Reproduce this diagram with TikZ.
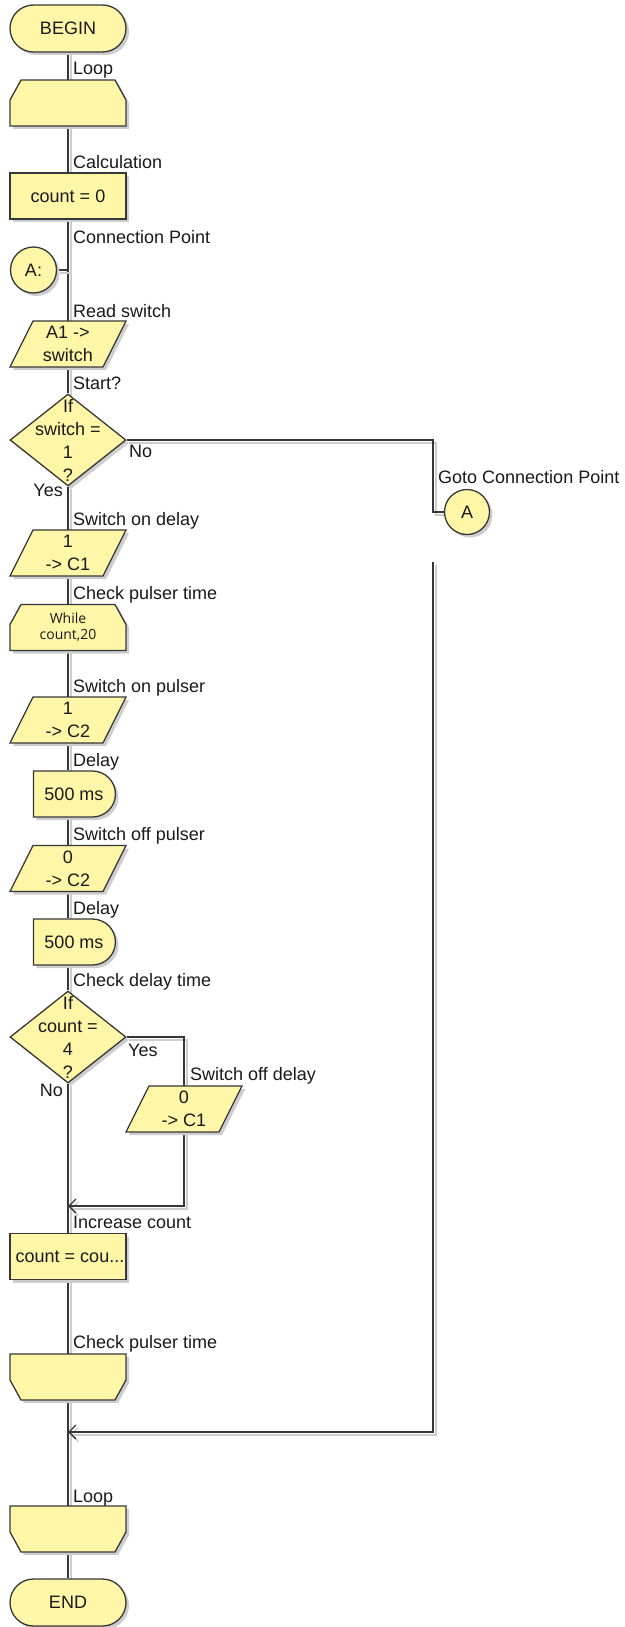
\documentclass[tikz,border=0pt]{standalone}
\usepackage{fontspec}
\setmainfont{Liberation Sans}
\newfontfamily\whilefont{Open Sans}
\usetikzlibrary{shapes.geometric,shapes.misc,shadows,calc,arrows.meta}
\pgfdeclarelayer{bg}
\pgfsetlayers{bg,main}
\definecolor{fillc}{RGB}{255,246,168}
\definecolor{linec}{RGB}{55,55,55}
\definecolor{shadc}{RGB}{205,205,205}
\definecolor{textc}{RGB}{25,25,25}

\newcommand\paranode[4]{%
  \path[shp] (#2-58,#3+23) -- (#2-35,#3-23) -- (#2+58,#3-23) -- (#2+35,#3+23) -- cycle;
  \node[holder] (#1) at (#2,#3) {#4};}
\newcommand\loopstartnode[5][]{%
  \path[shp] (#3-58,#4+23) -- (#3-58,#4-3) -- (#3-47,#4-23) -- (#3+47,#4-23) -- (#3+58,#4-3) -- (#3+58,#4+23) -- cycle;
  \node[holder,#1] (#2) at (#3,#4) {#5};}
\newcommand\loopendnode[4]{%
  \path[shp] (#2-58,#3-23) -- (#2-58,#3+3) -- (#2-47,#3+23) -- (#2+47,#3+23) -- (#2+58,#3+3) -- (#2+58,#3-23) -- cycle;
  \node[holder] (#1) at (#2,#3) {#4};}

\begin{document}
\begin{tikzpicture}[x=1pt,y=-1pt,
  font=\fontsize{18}{23}\selectfont, text=textc,
  shp/.style={draw=linec, fill=fillc, line width=1.3pt, drop shadow={shadow xshift=3pt,shadow yshift=-3pt,fill=shadc,opacity=1}},
  term/.style={shp, rounded rectangle, minimum width=116pt, minimum height=47pt, inner sep=0pt},
  procbox/.style={shp, rectangle, minimum width=116pt, minimum height=46pt, inner sep=0pt},
  holder/.style={rectangle, minimum width=116pt, minimum height=46pt, inner sep=0pt, align=center},
  delaybox/.style={shp, rounded rectangle, rounded rectangle left arc=none, minimum width=82pt, minimum height=46pt, inner sep=0pt},
  conpt/.style={shp, circle, minimum size=46pt, inner sep=0pt},
  decision/.style={shp, diamond, minimum width=116pt, minimum height=92pt, inner sep=0pt},
  dtext/.style={align=center, inner sep=0pt},
  lbl/.style={anchor=base west, inner sep=0pt},
  lble/.style={anchor=base east, inner sep=0pt},
  whiletext/.style={font=\whilefont\fontsize{14}{16}\selectfont},
  conn/.style={draw=linec, line width=1.3pt, preaction={draw=shadc, line width=2pt, transform canvas={xshift=2.5pt,yshift=-2.5pt}}},
  joinarrow/.style={conn, -{Straight Barb[length=7pt,width=14pt,line width=1.3pt]}},
]
\useasboundingbox (0,0) rectangle (624,1627);

% nodes
\node[term] (begin) at (68,28.5) {BEGIN};
\loopstartnode{loop1}{68}{103}{}
\node[procbox] (calc) at (68,196) {count = 0};
\node[conpt] (circA) at (33.5,270) {A:};
\paranode{read}{68}{344}{A1 ->\\switch}
\node[decision] (dia1) at (68,440) {};
\node[dtext] (dia1t) at (dia1) {If\\switch =\\1\\?};
\paranode{c1}{68}{553}{1\\-> C1}
\loopstartnode[whiletext]{while}{68}{627.5}{While\\count,20}
\paranode{c2}{68}{720}{1\\-> C2}
\node[delaybox] (delay1) at (74,794) {500 ms};
\paranode{c2off}{68}{868.5}{0\\-> C2}
\node[delaybox] (delay2) at (74,942) {500 ms};
\node[decision] (dia2) at (68,1037) {};
\node[dtext] (dia2t) at (dia2) {If\\count =\\4\\?};
\paranode{offc1}{184}{1109}{0\\-> C1}
\coordinate (join1) at (68,1206);
\node[procbox] (inc) at (68,1256.5) {\hspace*{4pt}count = cou...};
\loopendnode{loopend1}{68}{1377}{}
\coordinate (join2) at (68,1432);
\loopendnode{loopend2}{68}{1529}{}
\node[term] (end) at (68,1602.5) {END};
\node[conpt, minimum size=45pt] (gotoA) at (467,512) {A};
\coordinate (rc1) at (433,512);
\coordinate (rtop) at (433,562);

% labels
\node[lbl] (l1) at (73,75) {Loop};
\node[lbl] (l2) at (73,168) {Calculation};
\node[lbl] (l3) at (73,243) {Connection Point};
\node[lbl] (l4) at (73,317) {Read switch};
\node[lbl] (l5) at (73,389) {Start?};
\node[lbl] (l6) at (129,457) {No};
\node[lble] (l7) at (63,496) {Yes};
\node[lbl] (l8) at (438,483) {Goto Connection Point};
\node[lbl] (l9) at (73,525) {Switch on delay};
\node[lbl] (l10) at (73,599) {Check pulser time};
\node[lbl] (l11) at (73,692) {Switch on pulser};
\node[lbl] (l12) at (73,766) {Delay};
\node[lbl] (l13) at (73,840) {Switch off pulser};
\node[lbl] (l14) at (73,914) {Delay};
\node[lbl] (l15) at (73,986) {Check delay time};
\node[lbl] (l16) at (128,1056) {Yes};
\node[lble] (l17) at (63,1096) {No};
\node[lbl] (l18) at (190,1080) {Switch off delay};
\node[lbl] (l19) at (73,1228) {Increase count};
\node[lbl] (l20) at (73,1348) {Check pulser time};
\node[lbl] (l21) at (73,1502) {Loop};

% connectors
\begin{pgfonlayer}{bg}
\draw[conn] (begin.south) -- (loop1.north);
\draw[conn] (loop1.south) -- (calc.north);
\draw[conn] (calc.south) -- (read.north);
\draw[conn] (circA.east) -- (circA.east -| read.north);
\draw[conn] (read.south) -- (dia1.north);
\draw[conn] (dia1.south) -- (c1.north);
\draw[conn] (c1.south) -- (while.north);
\draw[conn] (while.south) -- (c2.north);
\draw[conn] (c2.south) -- (c2.south |- delay1.north);
\draw[conn] (c2.south |- delay1.south) -- (c2off.north);
\draw[conn] (c2off.south) -- (c2off.south |- delay2.north);
\draw[conn] (c2off.south |- delay2.south) -- (dia2.north);
\draw[conn] (dia2.south) -- (inc.north);
\draw[conn] (dia2.east) -| (offc1.north);
\draw[joinarrow] (offc1.south) |- (join1);
\draw[conn] (inc.south) -- (loopend1.north);
\draw[conn] (loopend1.south) -- (loopend2.north);
\draw[conn] (loopend2.south) -- (end.north);
\draw[conn] (dia1.east) -| (rc1) -- (gotoA.west);
\draw[joinarrow] (rtop) |- (join2);
\end{pgfonlayer}
\end{tikzpicture}
\end{document}
